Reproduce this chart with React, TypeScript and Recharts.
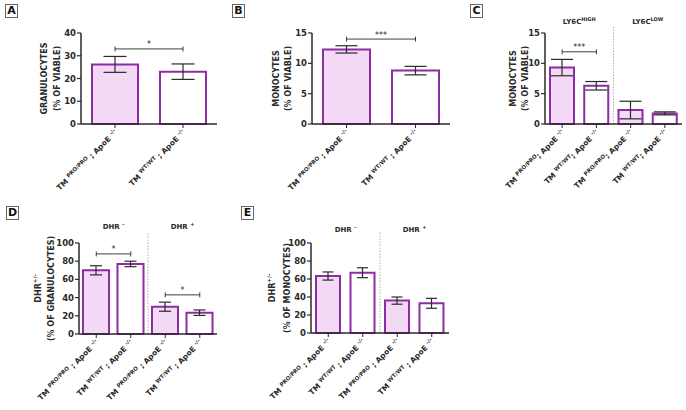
import React from 'react';
import { BarChart, Bar, XAxis, YAxis, ErrorBar, Cell, ReferenceLine } from 'recharts';

const FONT = '"DejaVu Sans", "Liberation Sans", sans-serif';
const PURPLE = '#8e2ca3';
const PINK = '#f3d9f5';
const INK = '#2a2a2a';

// ---------- Panel A: granulocytes ----------
const aCategories = ['TM PRO/PRO ; ApoE -/-', 'TM WT/WT ; ApoE -/-'];
const aValues = [26.2, 23.0];
const aErrors = [3.5, 3.4];
const aTicks = [0, 10, 20, 30, 40];
const aSig = [{ from: 1, to: 2, y: 33, text: '*' }];

// ---------- Panel B: monocytes ----------
const bCategories = ['TM PRO/PRO ; ApoE -/-', 'TM WT/WT ; ApoE -/-'];
const bValues = [12.3, 8.8];
const bErrors = [0.6, 0.7];
const bTicks = [0, 5, 10, 15];
const bSig = [{ from: 1, to: 2, y: 14, text: '***' }];

// ---------- Panel C: monocyte subsets ----------
const cCategories = ['TM PRO/PRO; ApoE -/-', 'TM WT/WT; ApoE -/-', 'TM PRO/PRO; ApoE -/-', 'TM WT/WT; ApoE -/-'];
const cValues = [9.3, 6.3, 2.3, 1.75];
const cErrors = [1.35, 0.7, 1.45, 0.25];
const cTicks = [0, 5, 10, 15];
const cGroups = [{ base: 'LY6C', sup: 'HIGH' }, { base: 'LY6C', sup: 'LOW' }];
const cSig = [{ from: 1, to: 2, y: 11.9, text: '***' }];

// ---------- Panel D: DHR granulocytes ----------
const dCategories = ['TM PRO/PRO ; ApoE -/-', 'TM WT/WT ; ApoE -/-', 'TM PRO/PRO ; ApoE -/-', 'TM WT/WT ; ApoE -/-'];
const dValues = [70, 77, 30, 23.4];
const dErrors = [5, 3, 5, 3];
const dTicks = [0, 20, 40, 60, 80, 100];
const dGroups = [{ base: 'DHR ', sup: '-' }, { base: 'DHR ', sup: '+' }];
const dSig = [
  { from: 1, to: 2, y: 88, text: '*' },
  { from: 3, to: 4, y: 43, text: '*' },
];

// ---------- Panel E: DHR monocytes ----------
const eCategories = ['TM PRO/PRO ; ApoE -/-', 'TM WT/WT ; ApoE -/-', 'TM PRO/PRO ; ApoE -/-', 'TM WT/WT ; ApoE -/-'];
const eValues = [63.3, 67, 36, 33];
const eErrors = [4.5, 5.5, 4, 5.5];
const eTicks = [0, 20, 40, 60, 80, 100];
const eGroups = [{ base: 'DHR ', sup: '-' }, { base: 'DHR ', sup: '+' }];

type Sig = { from: number; to: number; y: number; text: string };
type Group = { base: string; sup: string };
type TitleLine = { base: string; sup?: string };

const fillFor = (cat: string) => (cat.includes('PRO/PRO') ? PINK : '#ffffff');

function GenoTick(props: any) {
  const { x, y, payload, categories } = props;
  const cat: string | undefined = categories[Math.round(payload.value) - 1];
  if (!cat) return null;
  const m = cat.match(/^(\S+) (\S+)(\s?[;,]) (\S+) (\S+)$/);
  if (!m) return null;
  const [, tm, sup1, sep, apo, sup2] = m;
  return (
    <g transform={`translate(${x},${y})`}>
      <text
        transform="rotate(-45)"
        textAnchor="end"
        x={0}
        y={4}
        fontFamily={FONT}
        fontWeight="bold"
        fontSize={7.5}
        fill={INK}
      >
        <tspan>{tm + ' '}</tspan>
        <tspan fontSize={5.5} dy={-2.8}>{sup1}</tspan>
        <tspan dy={2.8}>{sep + ' ' + apo + ' '}</tspan>
        <tspan fontSize={5.5} dy={-2.8}>{sup2}</tspan>
      </text>
    </g>
  );
}

function YTitle({ viewBox, lines, offsets }: any) {
  if (!viewBox) return null;
  const axisX = viewBox.x + viewBox.width;
  const cy = viewBox.y + viewBox.height / 2;
  return (
    <g>
      {lines.map((ln: TitleLine, i: number) => (
        <text
          key={i}
          transform={`translate(${axisX - offsets[i]},${cy}) rotate(-90)`}
          textAnchor="middle"
          dominantBaseline="central"
          fontFamily={FONT}
          fontWeight="bold"
          fontSize={8}
          fill={INK}
        >
          <tspan>{ln.base}</tspan>
          {ln.sup ? (
            <tspan fontSize={5.5} dy={-3}>
              {ln.sup}
            </tspan>
          ) : null}
        </text>
      ))}
    </g>
  );
}

const bracketShape = (text: string) => (p: any) => {
  const { x1, y1, x2 } = p;
  return (
    <g>
      <path
        d={`M${x1},${y1 - 2.5}V${y1 + 2.5}M${x1},${y1}H${x2}M${x2},${y1 - 2.5}V${y1 + 2.5}`}
        stroke={INK}
        strokeWidth={0.9}
        fill="none"
      />
      <text x={(x1 + x2) / 2} y={y1 - 1.5} textAnchor="middle" fontFamily={FONT} fontSize={8} fill={INK}>
        {text}
      </text>
    </g>
  );
};

const groupShape = (g: Group) => (p: any) => {
  const { x1, y1, x2 } = p;
  return (
    <text x={(x1 + x2) / 2} y={y1} textAnchor="middle" fontFamily={FONT} fontWeight="bold" fontSize={7} fill={INK}>
      <tspan>{g.base}</tspan>
      <tspan fontSize={5} dy={-3}>{g.sup}</tspan>
    </text>
  );
};

type PanelProps = {
  letter: string;
  letterPos: [number, number];
  left: number;
  top: number;
  width: number;
  height: number;
  marginTop: number;
  marginRight: number;
  yWidth: number;
  xHeight: number;
  categories: string[];
  values: number[];
  errors: number[];
  ticks: number[];
  capHalf: number;
  barSize: number;
  titles: TitleLine[];
  titleOffsets: number[];
  sig?: Sig[];
  groups?: Group[];
  groupY?: number;
  sepTop?: number;
};

function Panel(p: PanelProps) {
  const n = p.categories.length;
  const rows = p.values.map((v, i) => ({ x: i + 1, value: v, err: p.errors[i] }));
  const yMax = p.ticks[p.ticks.length - 1];
  const xTicks = p.categories.map((_, i) => i + 1);
  return (
    <>
      <div
        style={{
          position: 'absolute',
          left: p.letterPos[0],
          top: p.letterPos[1],
          width: 11,
          height: 12,
          border: '1px solid #666',
          fontFamily: FONT,
          fontWeight: 'bold',
          fontSize: 11,
          lineHeight: '12px',
          textAlign: 'center',
          color: '#111',
        }}
      >
        {p.letter}
      </div>
      <div style={{ position: 'absolute', left: p.left, top: p.top }}>
        <BarChart
          width={p.width}
          height={p.height}
          data={rows}
          margin={{ top: p.marginTop, right: p.marginRight, left: 0, bottom: 0 }}
        >
          <XAxis
            dataKey="x"
            type="number"
            domain={[0.5, n + 0.5]}
            ticks={xTicks}
            interval={0}
            height={p.xHeight}
            tickSize={4}
            tickMargin={2}
            axisLine={{ stroke: INK, strokeWidth: 1.5 }}
            tickLine={{ stroke: INK, strokeWidth: 1 }}
            tick={(tp: any) => <GenoTick {...tp} categories={p.categories} />}
          />
          <YAxis
            type="number"
            domain={[0, yMax]}
            ticks={p.ticks}
            interval={0}
            width={p.yWidth}
            tickSize={4}
            tickMargin={1}
            axisLine={{ stroke: INK, strokeWidth: 1.5 }}
            tickLine={{ stroke: INK, strokeWidth: 1.2 }}
            tick={{ fontFamily: FONT, fontWeight: 'bold', fontSize: 8.5, fill: INK }}
            label={(lp: any) => <YTitle {...lp} lines={p.titles} offsets={p.titleOffsets} />}
          />
          {p.sepTop !== undefined ? (
            <ReferenceLine
              segment={[
                { x: 2.5, y: 0 },
                { x: 2.5, y: p.sepTop },
              ]}
              stroke="#9a9a9a"
              strokeWidth={0.8}
              strokeDasharray="1.5 1.5"
              ifOverflow="visible"
            />
          ) : null}
          <Bar dataKey="value" barSize={p.barSize} stroke={PURPLE} strokeWidth={2} isAnimationActive={false}>
            {p.categories.map((c, i) => (
              <Cell key={i} fill={fillFor(c)} />
            ))}
            <ErrorBar dataKey="err" direction="y" width={p.capHalf} stroke={INK} strokeWidth={1.2} />
          </Bar>
          {(p.sig || []).map((s, i) => (
            <ReferenceLine
              key={'s' + i}
              segment={[
                { x: s.from, y: s.y },
                { x: s.to, y: s.y },
              ]}
              ifOverflow="visible"
              shape={bracketShape(s.text)}
            />
          ))}
          {(p.groups || []).map((g, i) => (
            <ReferenceLine
              key={'g' + i}
              segment={[
                { x: 2 * i + 1, y: p.groupY as number },
                { x: 2 * i + 2, y: p.groupY as number },
              ]}
              ifOverflow="visible"
              shape={groupShape(g)}
            />
          ))}
        </BarChart>
      </div>
    </>
  );
}

export default function App() {
  return (
    <div style={{ position: 'absolute', left: 0, top: 0, width: 686, height: 410, background: '#fff', overflow: 'hidden' }}>
      <Panel
        letter="A"
        letterPos={[5, 4]}
        left={0}
        top={0}
        width={230}
        height={200}
        marginTop={33}
        marginRight={13}
        yWidth={81}
        xHeight={76}
        categories={aCategories}
        values={aValues}
        errors={aErrors}
        ticks={aTicks}
        capHalf={11.5}
        barSize={46}
        titles={[{ base: 'GRANULOCYTES' }, { base: '(% OF VIABLE)' }]}
        titleOffsets={[37, 24]}
        sig={aSig}
      />
      <Panel
        letter="B"
        letterPos={[232, 4]}
        left={230}
        top={0}
        width={225}
        height={200}
        marginTop={33}
        marginRight={5}
        yWidth={82}
        xHeight={76}
        categories={bCategories}
        values={bValues}
        errors={bErrors}
        ticks={bTicks}
        capHalf={11}
        barSize={47}
        titles={[{ base: 'MONOCYTES' }, { base: '(% OF VIABLE)' }]}
        titleOffsets={[36, 24]}
        sig={bSig}
      />
      <Panel
        letter="C"
        letterPos={[470, 4]}
        left={455}
        top={0}
        width={231}
        height={200}
        marginTop={33}
        marginRight={4}
        yWidth={90}
        xHeight={76}
        categories={cCategories}
        values={cValues}
        errors={cErrors}
        ticks={cTicks}
        capHalf={11}
        barSize={24}
        titles={[{ base: 'MONOCYTES' }, { base: '(% OF VIABLE)' }]}
        titleOffsets={[32, 20]}
        sig={cSig}
        groups={cGroups}
        groupY={16.5}
        sepTop={16}
      />
      <Panel
        letter="D"
        letterPos={[6, 206]}
        left={0}
        top={200}
        width={235}
        height={210}
        marginTop={43}
        marginRight={18}
        yWidth={79}
        xHeight={76}
        categories={dCategories}
        values={dValues}
        errors={dErrors}
        ticks={dTicks}
        capHalf={6}
        barSize={26}
        titles={[{ base: 'DHR', sup: '+/-' }, { base: '(% OF GRANULOCYTES)' }]}
        titleOffsets={[41, 28]}
        sig={dSig}
        groups={dGroups}
        groupY={115}
        sepTop={112}
      />
      <Panel
        letter="E"
        letterPos={[241, 206]}
        left={235}
        top={200}
        width={235}
        height={210}
        marginTop={43}
        marginRight={21}
        yWidth={76}
        xHeight={77}
        categories={eCategories}
        values={eValues}
        errors={eErrors}
        ticks={eTicks}
        capHalf={5.5}
        barSize={24}
        titles={[{ base: 'DHR', sup: '+/-' }, { base: '(% OF MONOCYTES)' }]}
        titleOffsets={[39, 24]}
        groups={eGroups}
        groupY={112}
        sepTop={112}
      />
    </div>
  );
}
